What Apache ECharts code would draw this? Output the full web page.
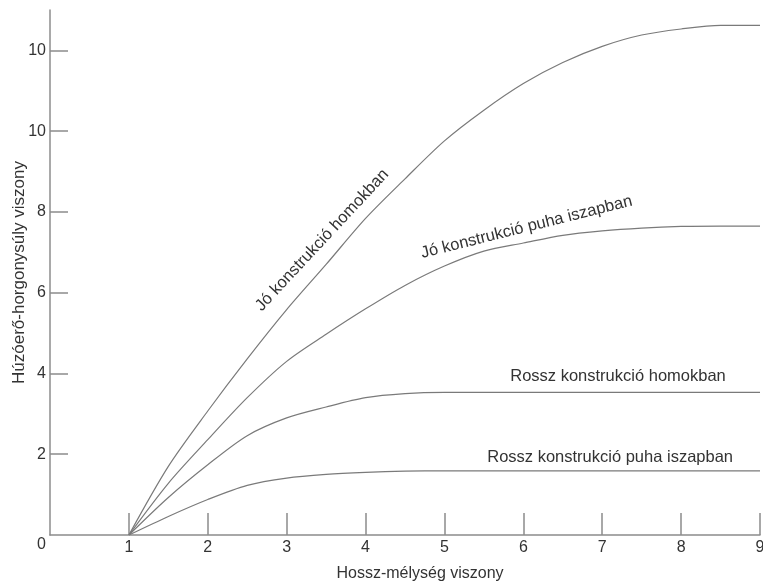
<!DOCTYPE html>
<html>
<head>
<meta charset="utf-8">
<script src="https://cdn.jsdelivr.net/npm/echarts@6/dist/echarts.min.js"></script>
<style>
  html, body { margin: 0; padding: 0; background: #fff; }
  #chart { width: 763px; height: 583px; }
</style>
</head>
<body>
<div id="chart"></div>
<script>
// hossz-mélység viszony (x)
const ratioX = [1, 1.5, 2, 2.5, 3, 3.5, 4, 4.5, 5, 5.5, 6, 6.5, 7, 7.5, 8, 8.5, 9]

// y in axis units
const joHomok   = [0, 1.7, 3.07, 4.36, 5.58, 6.7, 7.84, 8.82, 9.76, 10.52, 11.18, 11.7, 12.1, 12.38, 12.53, 12.62, 12.62]
const joIszap   = [0, 1.28, 2.36, 3.4, 4.3, 4.97, 5.6, 6.18, 6.66, 7.03, 7.23, 7.42, 7.53, 7.6, 7.64, 7.65, 7.65]
const rosszHomok = [0, 0.93, 1.74, 2.46, 2.9, 3.17, 3.4, 3.5, 3.53, 3.53, 3.53, 3.53, 3.53, 3.53, 3.53, 3.53, 3.53]
const rosszIszap = [0, 0.46, 0.88, 1.23, 1.41, 1.5, 1.55, 1.58, 1.59, 1.59, 1.59, 1.59, 1.59, 1.59, 1.59, 1.59, 1.59]

const curveNames = [
    'Jó konstrukció homokban',
    'Jó konstrukció puha iszapban',
    'Rossz konstrukció homokban',
    'Rossz konstrukció puha iszapban'
]
// label anchor (data coords) and rotation per curve
const labelAt = [[3.45, 7.3], [6.04, 7.62], [7.2, 3.93], [7.1, 1.92]]
const labelRot = [47, 14, 0, 0]

const xTicks = [1, 2, 3, 4, 5, 6, 7, 8, 9]
const yTicks = [0, 2, 4, 6, 8, 10, 12]
// the source prints "10" twice
const yTickText = ['0', '2', '4', '6', '8', '10', '10']

const font = 'Liberation Sans, Arial, sans-serif'
const lineCol = '#7a7a7a'
const axisCol = '#8c8c8c'
const textCol = '#333'

let chartInstance = echarts.init(document.getElementById('chart'))

const seriesArr = [joHomok, joIszap, rosszHomok, rosszIszap].map((vals, index) => {
    return {
        name: curveNames[index],
        type: 'line',
        smooth: 0.3,
        showSymbol: false,
        silent: true,
        data: vals.map((v, i) => [ratioX[i], v]),
        lineStyle: { color: lineCol, width: 1.2 },
        markPoint: {
            symbol: 'circle',
            symbolSize: 0,
            silent: true,
            data: [{ coord: labelAt[index] }],
            label: {
                show: true,
                position: 'inside',
                formatter: curveNames[index],
                rotate: labelRot[index],
                color: textCol,
                fontFamily: font,
                fontSize: 16.5
            }
        }
    }
})

const option = {
    backgroundColor: '#fff',
    animation: false,
    grid: { left: 50, right: 3, top: 10, bottom: 48, outerBoundsMode: 'none', containLabel: false },
    xAxis: {
        type: 'value',
        min: 0,
        max: 9,
        interval: 1,
        name: 'Hossz-mélység viszony',
        nameLocation: 'middle',
        nameGap: 31,
        nameMoveOverlap: false,
        nameTextStyle: { color: textCol, fontFamily: font, fontSize: 16, padding: [0, 0, 0, 30] },
        splitLine: { show: false },
        axisLine: { lineStyle: { color: axisCol, width: 1.5 } },
        axisTick: { inside: true, length: 22, customValues: xTicks, lineStyle: { color: axisCol, width: 1.5 } },
        axisLabel: { customValues: xTicks, margin: 5, color: textCol, fontFamily: font, fontSize: 16 }
    },
    yAxis: {
        type: 'value',
        min: 0,
        max: 13,
        interval: 2,
        name: 'Húzóerő-horgonysúly viszony',
        nameLocation: 'middle',
        nameGap: 22,
        nameMoveOverlap: false,
        nameRotate: 90,
        nameTextStyle: { color: textCol, fontFamily: font, fontSize: 17 },
        splitLine: { show: false },
        axisLine: { show: true, lineStyle: { color: axisCol, width: 1.5 } },
        axisTick: { show: true, inside: true, length: 18, customValues: yTicks.slice(1), lineStyle: { color: axisCol, width: 1.5 } },
        axisLabel: {
            customValues: yTicks,
            margin: 4,
            color: textCol,
            fontFamily: font,
            fontSize: 16,
            formatter: (v) => {
                const t = yTickText[yTicks.indexOf(v)]
                return v === 0 ? '{low|' + t + '}' : t
            },
            rich: {
                low: { color: textCol, fontFamily: font, fontSize: 16, padding: [20, 0, 0, 0] }
            }
        }
    },
    series: seriesArr
}

chartInstance.setOption(option)
</script>
</body>
</html>
